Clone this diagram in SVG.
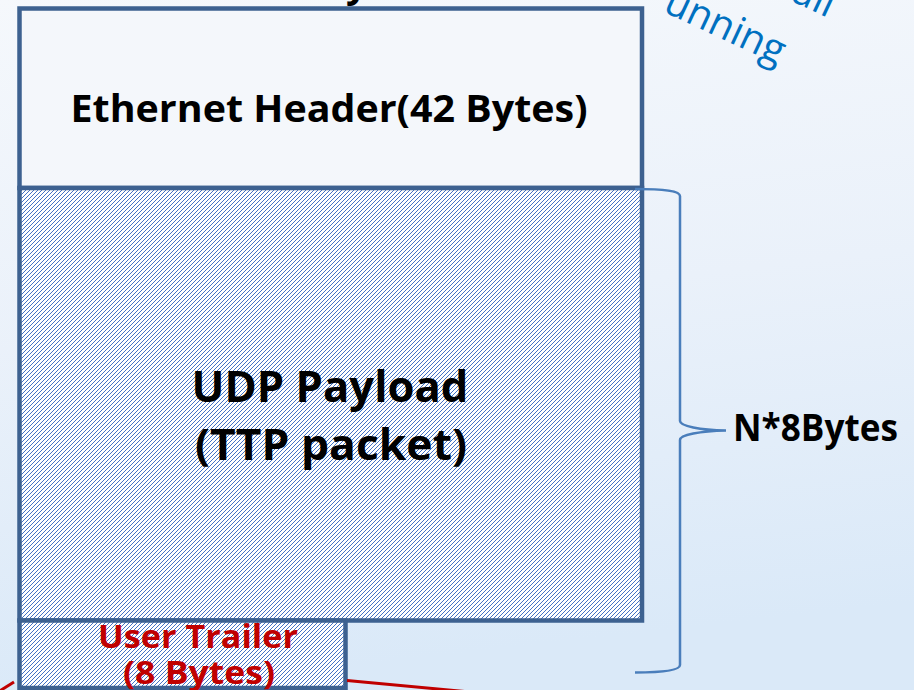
<svg xmlns="http://www.w3.org/2000/svg" width="914" height="690" viewBox="0 0 914 690">
<defs>
<linearGradient id="bg" x1="0" y1="0" x2="0.15" y2="1">
<stop offset="0" stop-color="#F5F8FC"/>
<stop offset="0.5" stop-color="#EAF1FA"/>
<stop offset="1" stop-color="#DAE9F8"/>
</linearGradient>
<pattern id="hatch" patternUnits="userSpaceOnUse" width="4" height="4" shape-rendering="crispEdges">
<rect width="4" height="4" fill="#FFFFFF"/>
<rect x="3" y="0" width="1" height="1" fill="#4472C4"/>
<rect x="2" y="1" width="1" height="1" fill="#4472C4"/>
<rect x="1" y="2" width="1" height="1" fill="#4472C4"/>
<rect x="0" y="3" width="1" height="1" fill="#4472C4"/>
</pattern>
<style>
.box{stroke:#3D6190;stroke-width:4.5;}
.lbl{font-family:"Open Sans","Liberation Sans",Arial,sans-serif;font-weight:bold;fill:#000;}
.red{font-family:"Open Sans","Liberation Sans",Arial,sans-serif;font-weight:bold;fill:#C00000;}
.note{font-family:"Open Sans","Liberation Sans",Arial,sans-serif;fill:#0070C0;}
</style>
</defs>
<rect width="914" height="690" fill="url(#bg)"/>
<text class="lbl" x="346" y="-3" font-size="38">y</text>
<text class="note" font-size="40" text-anchor="end" transform="translate(828,18) rotate(25)">all</text>
<text class="note" font-size="40" transform="translate(662,11) rotate(25)" textLength="128" lengthAdjust="spacingAndGlyphs">unning</text>
<g id="header">
<rect class="box" x="19.5" y="8.5" width="622.5" height="179.5" fill="#F4F7FB"/>
<text class="lbl" x="329" y="122" font-size="38" text-anchor="middle" textLength="517" lengthAdjust="spacingAndGlyphs">Ethernet Header(42 Bytes)</text>
</g>
<g id="payload">
<rect class="box" x="19.5" y="188" width="622.5" height="432.5" fill="url(#hatch)"/>
<text class="lbl" x="330" y="401.5" font-size="43" text-anchor="middle" textLength="277" lengthAdjust="spacingAndGlyphs">UDP Payload</text>
<text class="lbl" x="331" y="460" font-size="43" text-anchor="middle" textLength="272" lengthAdjust="spacingAndGlyphs">(TTP packet)</text>
</g>
<g id="trailer">
<rect class="box" x="19.5" y="620.5" width="326" height="67.5" fill="url(#hatch)"/>
<text class="red" x="198" y="648" font-size="32" text-anchor="middle" textLength="200" lengthAdjust="spacingAndGlyphs">User Trailer</text>
<text class="red" x="199" y="684" font-size="32" text-anchor="middle" textLength="152" lengthAdjust="spacingAndGlyphs">(8 Bytes)</text>
</g>
<g id="connectors" fill="none">
<path d="M635,189 C665,189 680,191 680,196 L680,421 C680,426 700,430 726,430.5 C700,431 680,435 680,440 L680,665 C680,670 665,672.5 635,672.5" stroke="#4A7EBB" stroke-width="2.5"/>
<path d="M347,680.5 L470,692" stroke="#C00000" stroke-width="3"/>
<path d="M-2,692 L14,682" stroke="#C00000" stroke-width="3"/>
</g>
<g id="label-n">
<text class="lbl" x="733" y="441" font-size="37" textLength="165" lengthAdjust="spacingAndGlyphs">N*8Bytes</text>
</g>
</svg>
